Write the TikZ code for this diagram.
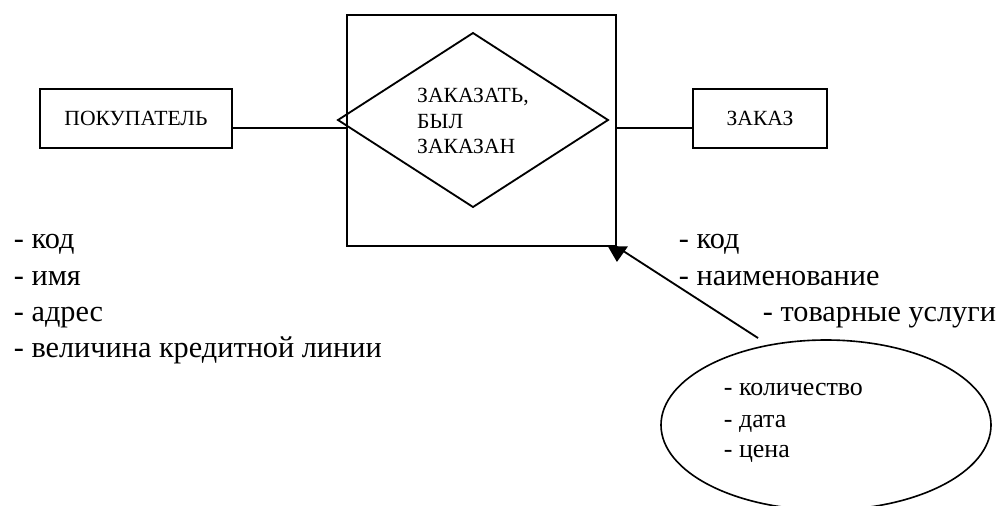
\documentclass[tikz,border=0pt]{standalone}
\usepackage{fontspec}
\setmainfont{Liberation Serif}
\usetikzlibrary{shapes.geometric,calc}
% one drawing unit
\newcommand\pxu{0.4625pt}
\begin{document}
\begin{tikzpicture}[x=\pxu, y=-\pxu, line width=0.85pt,
  entity/.style={draw, rectangle, inner sep=0pt, font=\fontsize{10}{11.6}\selectfont},
  bodytext/.style={anchor=base west, inner sep=0pt, font=\fontsize{14}{17}\selectfont},
  smalltext/.style={anchor=base west, inner sep=0pt, font=\fontsize{12}{14}\selectfont}]
\useasboundingbox (0,0) rectangle (1008,505);

% entities
\node[entity, minimum width=192*\pxu, minimum height=59*\pxu] (buyer) at (136,118.5) {ПОКУПАТЕЛЬ};
\node[entity, minimum width=134*\pxu, minimum height=59*\pxu] (order) at (760,118.5) {ЗАКАЗ};

% relationship: frame with a rhombus inside
\node[draw, rectangle, inner sep=0pt, minimum width=269*\pxu, minimum height=231*\pxu] (rel) at (481.5,130.5) {};
\coordinate (dl) at (338,120);
\coordinate (dt) at (473,33);
\coordinate (dr) at (608,120);
\coordinate (db) at (473,207);
\draw (dl) -- (dt) -- (dr) -- (db) -- cycle;
\node[align=left, inner sep=0pt, font=\fontsize{10}{11.6}\selectfont] (reltext) at (473,121) {ЗАКАЗАТЬ,\\БЫЛ\\ЗАКАЗАН};

% links between entities and the relationship
\draw ($(buyer.east)+(0,9.5)$) -- ($(rel.west)+(0,-2.5)$);
\draw ($(rel.east)+(0,-2.5)$) -- ($(order.west)+(0,9.5)$);

% attributes of the relationship
\begin{scope}
  \clip (0,0) rectangle (1008,505);
  \node[draw, ellipse, inner sep=0pt, line width=0.75pt, minimum width=330*\pxu, minimum height=170*\pxu] (attr) at (826,425) {};
\end{scope}
\node[smalltext] (a1) at (723,395) {- количество};
\node[smalltext] (a2) at (723,427) {- дата};
\node[smalltext] (a3) at (723,457) {- цена};

\coordinate (tail) at (758,338);
\draw (tail) -- (rel.south east);
\fill ($(rel.south east)+(-9,-0.5)$) -- ($(rel.south east)+(11,-0.5)$) -- ($(rel.south east)+(0,15)$) -- cycle;

% buyer attributes
\node[bodytext] (b1) at (13,248) {- код};
\node[bodytext] (b2) at (13,285) {- имя};
\node[bodytext] (b3) at (13,321) {- адрес};
\node[bodytext] (b4) at (13,357) {- величина кредитной линии};

% order attributes
\node[bodytext] (o1) at (678,248) {- код};
\node[bodytext] (o2) at (678,285) {- наименование};
\node[bodytext] (o3) at (762,321) {- товарные услуги};
\end{tikzpicture}
\end{document}
